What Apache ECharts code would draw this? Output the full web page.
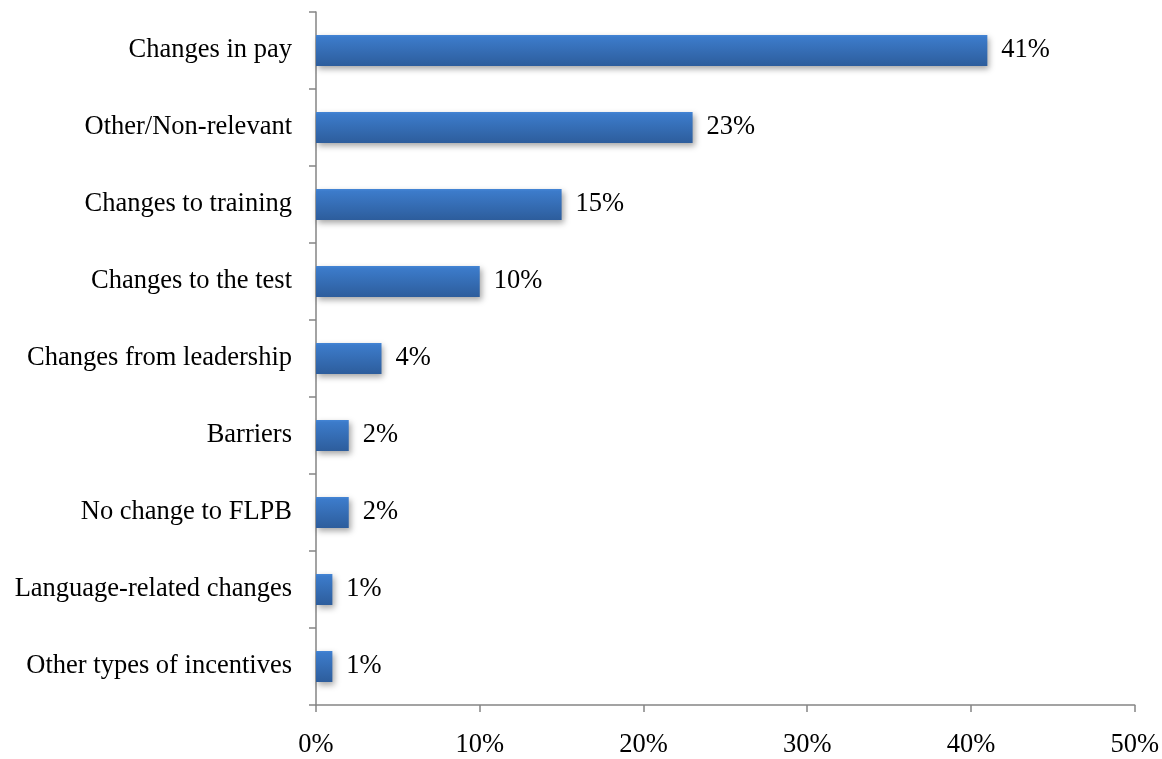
<!DOCTYPE html>
<html>
<head>
<meta charset="utf-8">
<script src="https://cdn.jsdelivr.net/npm/echarts@6/dist/echarts.min.js"></script>
<style>
  html, body { margin: 0; padding: 0; background: #fff; }
  #chart { width: 1162px; height: 759px; }
</style>
</head>
<body>
<div id="chart"></div>
<script>
// Categories listed top to bottom
const categories = [
  'Changes in pay',
  'Other/Non-relevant',
  'Changes to training',
  'Changes to the test',
  'Changes from leadership',
  'Barriers',
  'No change to FLPB',
  'Language-related changes',
  'Other types of incentives'
];
// Share of responses, percent
const shares = [41, 23, 15, 10, 4, 2, 2, 1, 1];
const xTicks = [0, 10, 20, 30, 40, 50];

const font = '"Liberation Serif", "Times New Roman", serif';
const fontSize = 26.5;
const axisGray = '#858585';

const chart = echarts.init(document.getElementById('chart'), null, { renderer: 'canvas' });
chart.setOption({
  animation: false,
  grid: { left: 316, right: 22, top: 12, bottom: 51, containLabel: false },
  xAxis: {
    type: 'value',
    min: xTicks[0],
    max: xTicks[xTicks.length - 1],
    interval: xTicks[1] - xTicks[0],
    splitLine: { show: false },
    axisLine: { show: true, lineStyle: { color: axisGray, width: 1.5 } },
    axisTick: { show: true, length: 7, lineStyle: { color: axisGray, width: 1.5 } },
    axisLabel: {
      margin: 27,
      fontFamily: font, fontSize: fontSize, color: '#000',
      formatter: v => v + '%'
    }
  },
  yAxis: {
    type: 'category',
    inverse: true,
    data: categories,
    axisLine: { show: true, lineStyle: { color: axisGray, width: 1.5 } },
    axisTick: { show: true, length: 7, lineStyle: { color: axisGray, width: 1.5 } },
    axisLabel: { margin: 24, fontFamily: font, fontSize: fontSize, color: '#000' }
  },
  series: [{
    type: 'bar',
    data: shares,
    barWidth: 31,
    itemStyle: {
      color: new echarts.graphic.LinearGradient(0, 0, 0, 1, [
        { offset: 0, color: '#4485d5' },
        { offset: 0.08, color: '#3c7bca' },
        { offset: 1, color: '#2d5d9c' }
      ]),
      shadowColor: 'rgba(0,0,0,0.35)',
      shadowBlur: 6,
      shadowOffsetX: 2,
      shadowOffsetY: 3
    },
    label: {
      show: true,
      position: 'right',
      distance: 14,
      fontFamily: font, fontSize: fontSize, color: '#000',
      formatter: p => p.value + '%'
    }
  }]
});
</script>
</body>
</html>
